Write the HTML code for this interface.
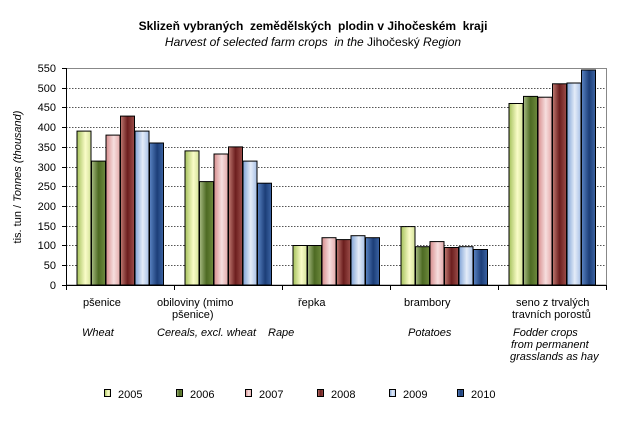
<!DOCTYPE html>
<html><head><meta charset="utf-8"><style>
body{margin:0;width:626px;height:421px;background:#fff;overflow:hidden;position:relative;font-family:"Liberation Sans",Arial,sans-serif;}
.t{position:absolute;font-size:11px;color:#000;white-space:nowrap;line-height:12px;}
.i{font-style:italic}
</style></head><body>
<div class="t" style="left:0;width:626px;text-align:center;top:20px;font-size:12px;font-weight:bold">Sklizeň vybraných &nbsp;zemědělských &nbsp;plodin v Jihočeském &nbsp;kraji</div>
<div class="t" style="left:0;width:626px;text-align:center;top:36px;font-size:12px"><i>Harvest of selected farm crops &nbsp;in the</i> Jihočeský <i>Region</i></div>
<svg width="626" height="421" style="position:absolute;left:0;top:0">
<defs>
<linearGradient id="g0" x1="0" x2="1"><stop offset="0" stop-color="#a5c15c"/><stop offset=".6" stop-color="#fafcc8"/><stop offset="1" stop-color="#d4e29a"/></linearGradient>
<linearGradient id="g1" x1="0" x2="1"><stop offset="0" stop-color="#a8bc84"/><stop offset=".5" stop-color="#4d6a23"/><stop offset="1" stop-color="#6e8a3e"/></linearGradient>
<linearGradient id="g2" x1="0" x2="1"><stop offset="0" stop-color="#d78d8d"/><stop offset=".55" stop-color="#f6dede"/><stop offset="1" stop-color="#e4aaaa"/></linearGradient>
<linearGradient id="g3" x1="0" x2="1"><stop offset="0" stop-color="#c07a72"/><stop offset=".5" stop-color="#6c1e1e"/><stop offset="1" stop-color="#9c4e4a"/></linearGradient>
<linearGradient id="g4" x1="0" x2="1"><stop offset="0" stop-color="#7fa3d6"/><stop offset=".55" stop-color="#e4ecf8"/><stop offset="1" stop-color="#a7c0e6"/></linearGradient>
<linearGradient id="g5" x1="0" x2="1"><stop offset="0" stop-color="#5b84c4"/><stop offset=".55" stop-color="#1c3e78"/><stop offset="1" stop-color="#3c64a4"/></linearGradient>
</defs>
<rect x="66.5" y="68.5" width="540" height="216.5" fill="none" stroke="#888"/>
<g stroke="#555" stroke-dasharray="1.5,1.5" stroke-width="1">
<line x1="66" x2="606" y1="88.5" y2="88.5"/><line x1="66" x2="606" y1="107.5" y2="107.5"/><line x1="66" x2="606" y1="127.5" y2="127.5"/><line x1="66" x2="606" y1="147.5" y2="147.5"/><line x1="66" x2="606" y1="167.5" y2="167.5"/><line x1="66" x2="606" y1="186.5" y2="186.5"/><line x1="66" x2="606" y1="206.5" y2="206.5"/><line x1="66" x2="606" y1="226.5" y2="226.5"/><line x1="66" x2="606" y1="245.5" y2="245.5"/><line x1="66" x2="606" y1="265.5" y2="265.5"/>
</g>
<g stroke="#000" stroke-width="1">
<line x1="66.5" x2="66.5" y1="68" y2="285"/>
<line x1="62" x2="606" y1="285.5" y2="285.5"/>
<line x1="174.5" x2="174.5" y1="285" y2="290"/><line x1="282.5" x2="282.5" y1="285" y2="290"/><line x1="390.5" x2="390.5" y1="285" y2="290"/><line x1="498.5" x2="498.5" y1="285" y2="290"/><line x1="606.5" x2="606.5" y1="285" y2="290"/><line x1="66.5" x2="66.5" y1="285" y2="290"/>
<line x1="62" x2="66" y1="68.5" y2="68.5"/><line x1="62" x2="66" y1="88.5" y2="88.5"/><line x1="62" x2="66" y1="107.5" y2="107.5"/><line x1="62" x2="66" y1="127.5" y2="127.5"/><line x1="62" x2="66" y1="147.5" y2="147.5"/><line x1="62" x2="66" y1="167.5" y2="167.5"/><line x1="62" x2="66" y1="186.5" y2="186.5"/><line x1="62" x2="66" y1="206.5" y2="206.5"/><line x1="62" x2="66" y1="226.5" y2="226.5"/><line x1="62" x2="66" y1="245.5" y2="245.5"/><line x1="62" x2="66" y1="265.5" y2="265.5"/>
</g>
<g id="bars" stroke="#000" stroke-width="1"></g>
<g font-size="11" text-anchor="end" font-family="Liberation Sans,Arial,sans-serif">
<text x="56" y="72">550</text><text x="56" y="92">500</text><text x="56" y="111">450</text><text x="56" y="131">400</text><text x="56" y="151">350</text><text x="56" y="171">300</text><text x="56" y="190">250</text><text x="56" y="210">200</text><text x="56" y="230">150</text><text x="56" y="249">100</text><text x="56" y="269">50</text><text x="56" y="289">0</text>
</g>
<text transform="translate(21,177) rotate(-90)" text-anchor="middle" font-size="11" font-family="Liberation Sans,Arial,sans-serif">tis. tun / <tspan font-style="italic">Tonnes (thousand)</tspan></text>
<g stroke="#000" stroke-width="1">
<rect x="104.5" y="389.5" width="6" height="7" fill="url(#g0)"/><rect x="176.5" y="389.5" width="6" height="7" fill="url(#g1)"/><rect x="245.5" y="389.5" width="6" height="7" fill="url(#g2)"/><rect x="317.5" y="389.5" width="6" height="7" fill="url(#g3)"/><rect x="389.5" y="389.5" width="6" height="7" fill="url(#g4)"/><rect x="457.5" y="389.5" width="6" height="7" fill="url(#g5)"/>
</g>
<g font-size="11" font-family="Liberation Sans,Arial,sans-serif">
<text x="118" y="398">2005</text><text x="190" y="398">2006</text><text x="259" y="398">2007</text><text x="331" y="398">2008</text><text x="403" y="398">2009</text><text x="471" y="398">2010</text>
</g>
</svg>
<div class="t" style="left:83px;top:297px">pšenice</div>
<div class="t" style="left:157px;top:297px">obiloviny (mimo</div>
<div class="t" style="left:172px;top:309px">pšenice)</div>
<div class="t" style="left:298px;top:297px">řepka</div>
<div class="t" style="left:404px;top:297px">brambory</div>
<div class="t" style="left:516px;top:297px">seno z trvalých</div>
<div class="t" style="left:512px;top:309px">travních porostů</div>
<div class="t i" style="left:82px;top:327px">Wheat</div>
<div class="t i" style="left:157px;top:327px">Cereals, excl. wheat</div>
<div class="t i" style="left:268px;top:327px">Rape</div>
<div class="t i" style="left:408px;top:327px">Potatoes</div>
<div class="t i" style="left:513px;top:327px">Fodder crops</div>
<div class="t i" style="left:511px;top:339px">from permanent</div>
<div class="t i" style="left:510px;top:351px">grasslands as hay</div>
<script>
var d=[[390,314,380,428,390,360],[340,262,332,350,314,258],[100,100,120,115,125,120],[148,97,110,95,97,90],[460,478,476,510,512,545]];
var g=document.getElementById('bars'),s='';
for(var c=0;c<5;c++)for(var k=0;k<6;k++){var x=66+c*108+10.5+k*14.5,h=d[c][k]*217/550;
s+='<rect x="'+(x+.5).toFixed(1)+'" y="'+(285-h).toFixed(1)+'" width="14" height="'+h.toFixed(1)+'" fill="url(#g'+k+')"/>';}
g.innerHTML=s;
</script>
</body></html>
